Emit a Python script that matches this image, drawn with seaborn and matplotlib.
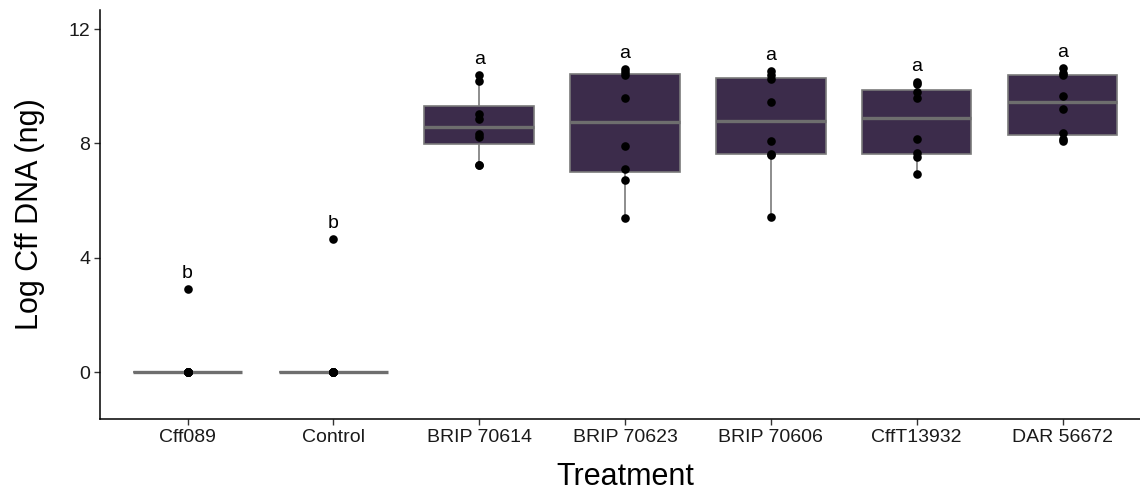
import numpy as np
import pandas as pd
import matplotlib
matplotlib.use("Agg")
import matplotlib.pyplot as plt
import seaborn as sns

# ---- data ----
treatments = ["Cff089", "Control", "BRIP 70614", "BRIP 70623", "BRIP 70606", "CffT13932", "DAR 56672"]
cff089 = [0, 0, 0, 0, 0, 0, 0, 2.90]
control = [0, 0, 0, 0, 0, 0, 0, 4.65]
brip70614 = [7.24, 7.24, 8.23, 8.32, 8.85, 9.02, 10.18, 10.39]
brip70623 = [5.41, 6.72, 7.09, 7.91, 9.58, 10.39, 10.51, 10.59]
brip70606 = [5.43, 7.60, 7.64, 8.09, 9.46, 10.24, 10.39, 10.53]
cfft13932 = [6.92, 7.51, 7.67, 8.17, 9.58, 9.81, 10.08, 10.16]
dar56672 = [8.09, 8.17, 8.35, 9.22, 9.66, 10.40, 10.45, 10.65]
letters = ["b", "b", "a", "a", "a", "a", "a"]
yticks = [0, 4, 8, 12]

groups = [cff089, control, brip70614, brip70623, brip70606, cfft13932, dar56672]
df = pd.DataFrame({
    "Treatment": np.repeat(treatments, [len(g) for g in groups]),
    "DNA": np.concatenate(groups),
})

sns.set_theme(style="ticks")
plt.rcParams["font.family"] = ["Liberation Sans", "DejaVu Sans"]

W, H = 1140, 496
fig = plt.figure(figsize=(W / 100, H / 100), dpi=100)
ax = fig.add_axes([100 / W, (H - 419) / H, 1050 / W, (419 - 10) / H])

box_color = "#3C2C4B"
edge_color = "#7A7A7A"
sns.boxplot(data=df, x="Treatment", y="DNA", order=treatments, ax=ax,
            color=box_color, saturation=1, width=0.75, showfliers=False,
            showcaps=False, linecolor=edge_color, linewidth=1.2,
            medianprops=dict(color="#6E6E6E", linewidth=2.4),
            whiskerprops=dict(color=edge_color, linewidth=1.2))
sns.stripplot(data=df, x="Treatment", y="DNA", order=treatments, ax=ax,
              jitter=False, color="black", size=6.2, zorder=5)

for i, (t, g) in enumerate(zip(treatments, groups)):
    ax.text(i, max(g) + 0.55, letters[i], ha="center", va="center",
            fontsize=14, color="black")

ax.set_xlim(-0.6, 6.6)
ax.set_ylim(-1.64, 12.67)
ax.set_yticks(yticks)
ax.set_yticklabels([str(v) for v in yticks])
ax.tick_params(axis="both", labelsize=14, length=4, width=1, color="#333333",
               labelcolor="#1a1a1a", pad=3)
for s in ["top", "right"]:
    ax.spines[s].set_visible(False)
for s in ["left", "bottom"]:
    ax.spines[s].set_color("black")
    ax.spines[s].set_linewidth(1.1)

ax.set_xlabel("Treatment", fontsize=22, labelpad=12, color="black")
ax.set_ylabel("Log Cff DNA (ng)", fontsize=22, labelpad=17, color="black")

fig.savefig("out.png", dpi=100)
